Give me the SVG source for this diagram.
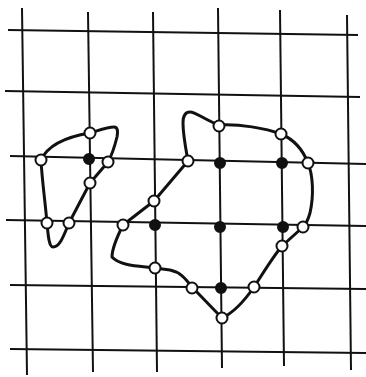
<svg xmlns="http://www.w3.org/2000/svg" width="366" height="377" viewBox="0 0 366 377">
<style>
.grid line{stroke:#111;stroke-width:2;stroke-linecap:butt}
.outline{fill:none;stroke:#111;stroke-width:3;stroke-linejoin:round}
.open{fill:#fff;stroke:#111;stroke-width:2}
.full{fill:#111;stroke:#111;stroke-width:2}
</style>
<rect width="366" height="377" fill="#fff"/>
<g id="connectors">
<g class="grid">
<line x1="22" y1="8" x2="27" y2="375"/>
<line x1="88" y1="12" x2="93" y2="372"/>
<line x1="153" y1="12" x2="157" y2="372"/>
<line x1="218" y1="8" x2="222" y2="368"/>
<line x1="280" y1="10" x2="284" y2="366"/>
<line x1="347" y1="15" x2="351" y2="370"/>
<line x1="8" y1="30" x2="358" y2="35"/>
<line x1="5" y1="91" x2="360" y2="97"/>
<line x1="10" y1="156" x2="366" y2="164"/>
<line x1="6" y1="220" x2="366" y2="226"/>
<line x1="10" y1="285" x2="366" y2="289"/>
<line x1="10" y1="349" x2="366" y2="353"/>
</g>
<path class="outline" d="M41,160 C48,145 65,137 90,133 C100,130 108,127 114,127 C118,127 118,132 117,137 C115,145 112,155 108,162 L90,183 L69,223 C64,235 60,247 53,247 C49,247 48,235 47,223 C45,200 42,180 41,160 Z"/>
<path class="outline" d="M188,161 C186,150 183,135 183,123 C183,115 186,112 190,112 C196,112 205,120 219,125 C240,124 265,128 281,134 C295,140 303,150 308,163 C313,175 314,195 310,213 C308,220 306,224 303,227 L282,246 C272,258 262,275 254,287 C245,300 235,312 222,318 L192,287 C185,278 180,272 170,270 L155,268 C140,266 120,266 112,257 C112,248 118,235 123,225 L154,201 L188,161 Z"/>
</g>
<g id="small-blob-points">
<circle id="s1" class="open" cx="90" cy="133" r="5.5"/>
<circle id="s2" class="open" cx="41" cy="160" r="5.5"/>
<circle id="s3" class="full" cx="89" cy="159" r="5"/>
<circle id="s4" class="open" cx="108" cy="162" r="5.5"/>
<circle id="s5" class="open" cx="90" cy="183" r="5.5"/>
<circle id="s6" class="open" cx="47" cy="223" r="5.5"/>
<circle id="s7" class="open" cx="69" cy="223" r="5.5"/>
</g>
<g id="large-blob-points">
<circle id="b1" class="open" cx="219" cy="126" r="5.5"/>
<circle id="b2" class="open" cx="281" cy="134" r="5.5"/>
<circle id="b3" class="open" cx="188" cy="161" r="5.5"/>
<circle id="b4" class="full" cx="220" cy="163" r="5"/>
<circle id="b5" class="full" cx="282" cy="163" r="5"/>
<circle id="b6" class="open" cx="308" cy="163" r="5.5"/>
<circle id="b7" class="open" cx="154" cy="201" r="5.5"/>
<circle id="b8" class="open" cx="123" cy="225" r="5.5"/>
<circle id="b9" class="full" cx="155" cy="225" r="5"/>
<circle id="b10" class="full" cx="220" cy="227" r="5"/>
<circle id="b11" class="full" cx="283" cy="227" r="5"/>
<circle id="b12" class="open" cx="303" cy="227" r="5.5"/>
<circle id="b13" class="open" cx="282" cy="246" r="5.5"/>
<circle id="b14" class="open" cx="155" cy="268" r="5.5"/>
<circle id="b15" class="open" cx="192" cy="288" r="5.5"/>
<circle id="b16" class="full" cx="221" cy="288" r="5"/>
<circle id="b17" class="open" cx="254" cy="287" r="5.5"/>
<circle id="b18" class="open" cx="222" cy="318" r="5.5"/>
</g>
</svg>
